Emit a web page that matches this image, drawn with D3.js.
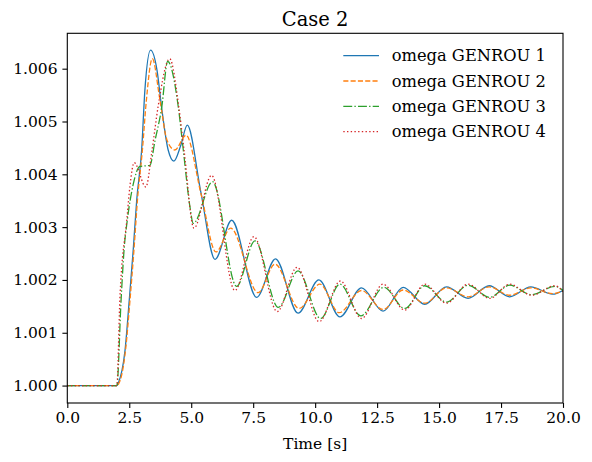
<!DOCTYPE html>
<html>
<head>
<meta charset="utf-8">
<script src="https://cdn.jsdelivr.net/npm/d3@7"></script>
<style>
  body { margin: 0; background: #fff; }
  svg { display: block; font-family: "DejaVu Serif", serif; }
</style>
</head>
<body>
<svg id="chart"></svg>
<script>
// values (time in s, omega in pu)
var t1 = [0, 2.0, 2.06, 2.33, 2.50, 2.66, 2.80, 3.00, 3.13, 3.36, 3.62, 3.82, 4.07, 4.30, 4.58, 4.84, 5.39, 5.96, 6.63, 7.64, 8.40, 9.31, 10.15, 11.00, 11.87, 12.74, 13.55, 14.42, 15.30, 16.17, 17.02, 17.85, 18.70, 19.58, 20.0];
var w1 = [1.00000, 1.00000, 1.00005, 1.00067, 1.00162, 1.00257, 1.00351, 1.00446, 1.00559, 1.00635, 1.00597, 1.00521, 1.00446, 1.00425, 1.00455, 1.00493, 1.00366, 1.00239, 1.00313, 1.00167, 1.00240, 1.00137, 1.00200, 1.00130, 1.00185, 1.00141, 1.00186, 1.00154, 1.00187, 1.00165, 1.00189, 1.00168, 1.00187, 1.00173, 1.00180];

var t2 = [0, 2.0, 2.07, 2.35, 2.53, 2.69, 2.83, 3.03, 3.19, 3.43, 3.74, 4.02, 4.34, 4.79, 5.40, 6.00, 6.59, 7.70, 8.38, 9.35, 10.19, 10.97, 11.87, 12.74, 13.55, 14.42, 15.30, 16.17, 17.02, 17.85, 18.70, 19.58, 20.0];
var w2 = [1.00000, 1.00000, 1.00003, 1.00067, 1.00162, 1.00257, 1.00351, 1.00446, 1.00540, 1.00619, 1.00540, 1.00465, 1.00446, 1.00474, 1.00362, 1.00253, 1.00298, 1.00176, 1.00230, 1.00146, 1.00192, 1.00138, 1.00180, 1.00144, 1.00181, 1.00156, 1.00185, 1.00168, 1.00187, 1.00171, 1.00185, 1.00174, 1.00179];

var t3 = [0, 2.0, 2.17, 2.29, 2.42, 2.65, 2.93, 3.33, 3.54, 3.81, 4.05, 4.48, 4.68, 4.95, 5.08, 5.86, 6.83, 7.57, 8.51, 9.31, 10.22, 11.00, 11.84, 12.77, 13.62, 14.42, 15.30, 16.17, 17.04, 17.85, 18.73, 19.67, 20.0];
var w3 = [1.00000, 1.00000, 1.00162, 1.00257, 1.00313, 1.00379, 1.00415, 1.00417, 1.00464, 1.00527, 1.00614, 1.00527, 1.00446, 1.00338, 1.00307, 1.00386, 1.00188, 1.00274, 1.00148, 1.00217, 1.00127, 1.00192, 1.00132, 1.00186, 1.00146, 1.00189, 1.00158, 1.00190, 1.00167, 1.00190, 1.00172, 1.00188, 1.00180];

var t4 = [0, 2.0, 2.12, 2.40, 2.53, 2.70, 3.17, 3.42, 3.66, 4.13, 4.50, 4.71, 5.11, 5.82, 6.76, 7.53, 8.47, 9.27, 10.16, 11.02, 11.87, 12.74, 13.62, 14.42, 15.30, 16.17, 17.04, 17.85, 18.73, 19.67, 20.0];
var w4 = [1.00000, 1.00000, 1.00162, 1.00313, 1.00379, 1.00422, 1.00376, 1.00446, 1.00527, 1.00619, 1.00527, 1.00446, 1.00298, 1.00398, 1.00180, 1.00282, 1.00140, 1.00224, 1.00121, 1.00198, 1.00127, 1.00192, 1.00143, 1.00192, 1.00156, 1.00192, 1.00165, 1.00192, 1.00171, 1.00189, 1.00178];

var names = ['omega GENROU 1', 'omega GENROU 2', 'omega GENROU 3', 'omega GENROU 4'];
var xTicks = [0, 2.5, 5, 7.5, 10, 12.5, 15, 17.5, 20];
var yTicks = [1.000, 1.001, 1.002, 1.003, 1.004, 1.005, 1.006];

var colors = ['#1f77b4', '#ff7f0e', '#2ca02c', '#d62728'];
var dashes = [null, '5.1,2.2', '8.9,2.2,1.4,2.2', '1.4,2.3'];

var W = 592, H = 462;
// plot box (named so they don't clash with window.top)
var pLeft = 67.3, pRight = 563, pTop = 33.3, pBottom = 403;
var fs = 15.5;

var svg = d3.select('#chart').attr('width', W).attr('height', H);

var x = d3.scaleLinear().domain([0, 20]).range([pLeft, pRight]);
var y = d3.scaleLinear().domain([0.99967, 1.00667]).range([pBottom, pTop]);

svg.append('clipPath').attr('id', 'clip')
  .append('rect')
    .attr('x', pLeft).attr('y', pTop)
    .attr('width', pRight - pLeft).attr('height', pBottom - pTop);

var series = [[t1, w1], [t2, w2], [t3, w3], [t4, w4]].map(function(s) {
  return s[0].map(function(t, i) { return [t, s[1][i]]; });
});

var line = d3.line()
  .x(function(d) { return x(d[0]); })
  .y(function(d) { return y(d[1]); })
  .curve(d3.curveMonotoneX);

svg.append('g').attr('clip-path', 'url(#clip)')
  .selectAll('path')
  .data(series)
  .enter().append('path')
    .attr('d', line)
    .attr('fill', 'none')
    .attr('stroke', function(d, i) { return colors[i]; })
    .attr('stroke-width', 1.3)
    .attr('stroke-dasharray', function(d, i) { return dashes[i]; });

// axes
var xAxis = svg.append('g')
  .attr('transform', 'translate(0,' + pBottom + ')')
  .call(d3.axisBottom(x).tickValues(xTicks).tickFormat(d3.format('.1f'))
        .tickSize(4.9).tickPadding(4.4).tickSizeOuter(0));

var yAxis = svg.append('g')
  .attr('transform', 'translate(' + pLeft + ',0)')
  .call(d3.axisLeft(y).tickValues(yTicks).tickFormat(d3.format('.3f'))
        .tickSize(4.9).tickPadding(4.9).tickSizeOuter(0));

[xAxis, yAxis].forEach(function(a) {
  a.select('.domain').remove();
  a.selectAll('line').attr('stroke', '#000').attr('stroke-width', 1.1);
  a.selectAll('text').attr('fill', '#000')
    .style('font-family', '"DejaVu Serif", serif').style('font-size', fs + 'px');
});

// frame
svg.append('rect')
  .attr('x', pLeft).attr('y', pTop)
  .attr('width', pRight - pLeft).attr('height', pBottom - pTop)
  .attr('fill', 'none').attr('stroke', '#000').attr('stroke-width', 1.1);

// title and label
svg.append('text')
  .attr('x', (pLeft + pRight) / 2).attr('y', 26)
  .attr('text-anchor', 'middle')
  .style('font-size', '19.5px')
  .text('Case 2');

svg.append('text')
  .attr('x', (pLeft + pRight) / 2).attr('y', 449)
  .attr('text-anchor', 'middle')
  .style('font-size', fs + 'px')
  .text('Time [s]');

// legend
var leg = svg.append('g').selectAll('g')
  .data(names)
  .enter().append('g')
    .attr('transform', function(d, i) { return 'translate(343.3,' + (55.7 + i * 25.3) + ')'; });

leg.append('line')
  .attr('x1', 0).attr('x2', 35.7)
  .attr('stroke', function(d, i) { return colors[i]; })
  .attr('stroke-width', 1.3)
  .attr('stroke-dasharray', function(d, i) { return dashes[i]; });

leg.append('text')
  .attr('x', 48.4).attr('dy', '0.35em')
  .style('font-size', '16.3px')
  .text(function(d) { return d; });
</script>
</body>
</html>
